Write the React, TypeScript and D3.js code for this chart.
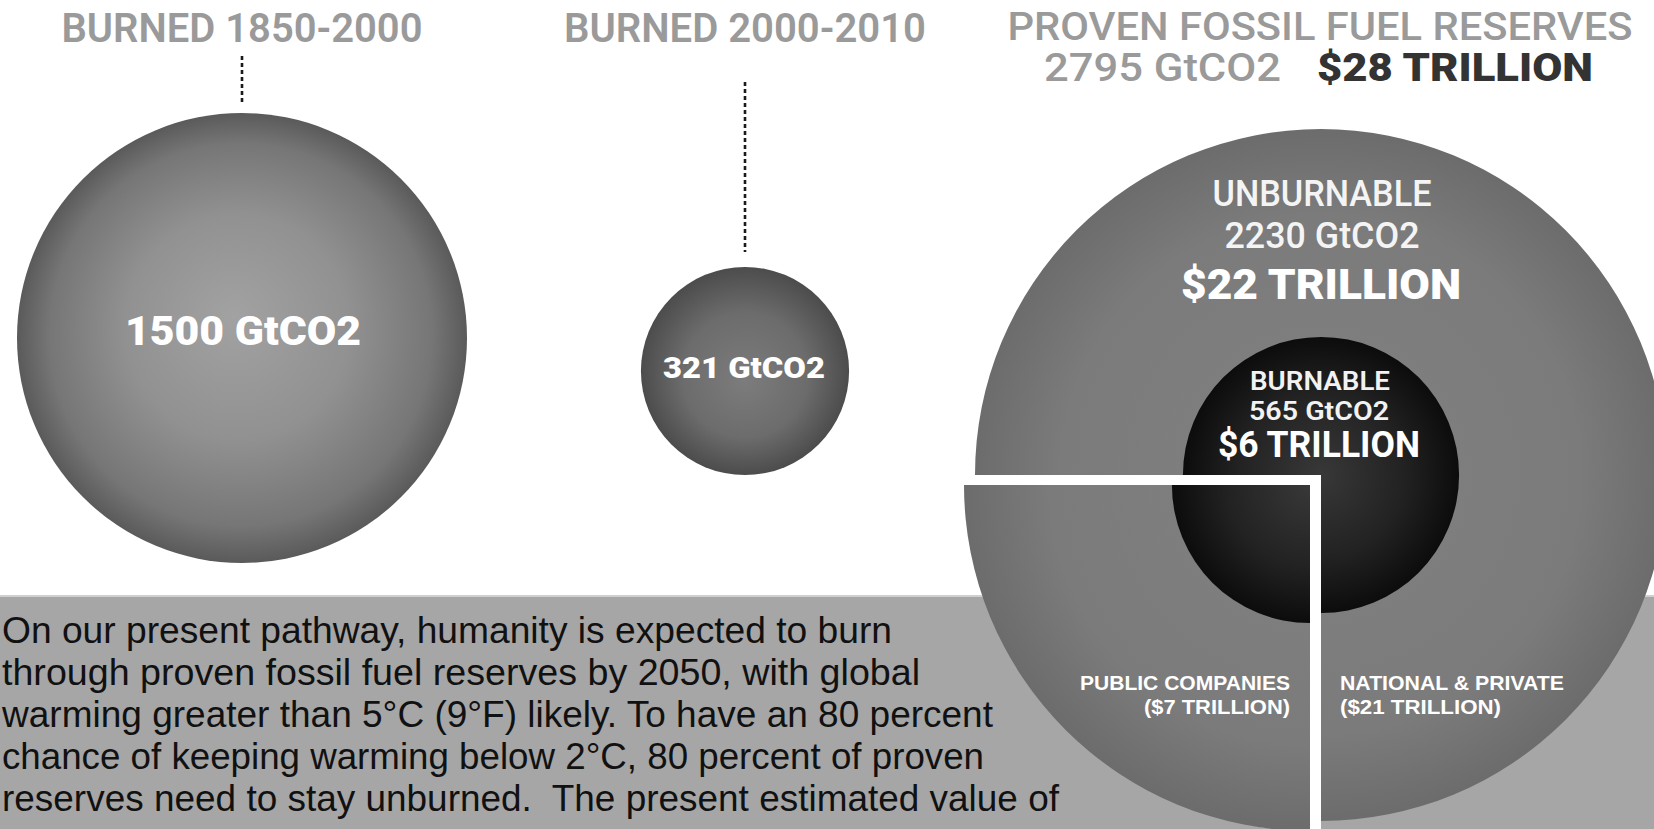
import * as d3 from 'd3'

// ── data ───────────────────────────────────────────────────────────
const burnedLabels = ['BURNED 1850-2000', 'BURNED 2000-2010']
const burnedGt = [1500, 321]

const reserveTitle = 'PROVEN FOSSIL FUEL RESERVES'
const reserveTotalGt = 2795
const reserveTotalUsd = 28

const splitLabels = ['UNBURNABLE', 'BURNABLE']
const splitGt = [2230, 565]
const splitUsd = [22, 6]

const ownerLabels = ['PUBLIC COMPANIES', 'NATIONAL & PRIVATE']
const ownerUsd = [7, 21]

const bodyLines = [
  'On our present pathway, humanity is expected to burn',
  'through proven fossil fuel reserves by 2050, with global',
  'warming greater than 5°C (9°F) likely. To have an 80 percent',
  'chance of keeping warming below 2°C, 80 percent of proven',
  'reserves need to stay unburned.  The present estimated value of',
]
const bodyWidths = [890, 918, 991, 982, 1057]

const W = 1654
const H = 829
const HEAD = 'Roboto, "Liberation Sans", Arial, sans-serif'
const BODY = '"Liberation Sans Narrow", "Liberation Sans", Arial, sans-serif'
const SMALL = '"Liberation Sans", Arial, sans-serif'

function T({ x, y, size, weight = 500, fill = '#fff', anchor = 'middle', len, family = HEAD, children }) {
  return (
    <text x={x} y={y} fontSize={size} fontWeight={weight} fill={fill} textAnchor={anchor}
      fontFamily={family} textLength={len} lengthAdjust="spacingAndGlyphs" style={{ whiteSpace: 'pre' }}>
      {children}
    </text>
  )
}

export default function App() {
  // burned circles + burnable core share one area scale
  const rScale = d3.scaleSqrt().domain([0, 1500]).range([0, 225])
  // the reserves disc is sized to its own panel
  const rReserve = d3.scaleSqrt().domain([0, reserveTotalGt]).range([0, 346])

  const burnedX = [242, 745]
  const burnedCy = [338, 371]
  const titleW = [361, 362]

  const cx = 1321
  const cy = 475
  const R = rReserve(reserveTotalGt)
  const rIn = rScale(splitGt[1])
  const off = [-11, 10]

  // public companies slice = share of total value, hanging at the lower left
  const pubShare = ownerUsd[0] / reserveTotalUsd
  const a0 = Math.PI
  const a1 = Math.PI + 2 * Math.PI * pubShare
  const arc = d3.arc()
  const natOuter = arc({ innerRadius: 0, outerRadius: R, startAngle: a1 - 2 * Math.PI, endAngle: a0 })
  const natInner = arc({ innerRadius: 0, outerRadius: rIn, startAngle: a1 - 2 * Math.PI, endAngle: a0 })
  const pubOuter = arc({ innerRadius: 0, outerRadius: R, startAngle: a0, endAngle: a1 })
  const pubInner = arc({ innerRadius: 0, outerRadius: rIn, startAngle: a0, endAngle: a1 })
  const gapArc = arc({ innerRadius: 0, outerRadius: R + 11, startAngle: a0, endAngle: a1 })

  const bandY = 596

  return (
    <svg width={W} height={H} style={{ position: 'absolute', left: 0, top: 0, display: 'block' }}>
      <defs>
        <radialGradient id="g1" cx="0.5" cy="0.5" r="0.5" fx="0.48" fy="0.45">
          <stop offset="0" stopColor="#a2a2a2" />
          <stop offset="0.5" stopColor="#919191" />
          <stop offset="0.85" stopColor="#767676" />
          <stop offset="1" stopColor="#5a5a5a" />
        </radialGradient>
        <radialGradient id="g2" cx="0.5" cy="0.5" r="0.5" fx="0.5" fy="0.55">
          <stop offset="0" stopColor="#7c7c7c" />
          <stop offset="0.6" stopColor="#6c6c6c" />
          <stop offset="1" stopColor="#4c4c4c" />
        </radialGradient>
        <radialGradient id="gOut" gradientUnits="userSpaceOnUse" cx="0" cy="0" r={R}>
          <stop offset="0" stopColor="#818181" />
          <stop offset="0.75" stopColor="#7b7b7b" />
          <stop offset="1" stopColor="#6c6c6c" />
        </radialGradient>
        <radialGradient id="gIn" gradientUnits="userSpaceOnUse" cx="0" cy="0" r={rIn}>
          <stop offset="0" stopColor="#383838" />
          <stop offset="0.6" stopColor="#222" />
          <stop offset="1" stopColor="#0c0c0c" />
        </radialGradient>
      </defs>

      <rect width={W} height={H} fill="#fff" />

      {/* grey footer band with the story text */}
      <rect x={0} y={bandY} width={W} height={H - bandY} fill="#a6a6a6" />
      <rect x={0} y={bandY - 1} width={W} height={2} fill="#cfcfcf" />
      {bodyLines.map((line, i) => (
        <T key={i} x={2} y={643 + i * 42} size={37} weight={400} fill="#111" anchor="start"
          len={bodyWidths[i]} family={BODY}>{line}</T>
      ))}

      {/* burned so far */}
      {burnedGt.map((v, i) => {
        const r = rScale(v)
        return (
          <g key={i}>
            <T x={burnedX[i]} y={42} size={40} weight={600} fill="#9a9a9a" len={titleW[i]}>{burnedLabels[i]}</T>
            <line x1={burnedX[i]} x2={burnedX[i]} y1={i === 0 ? 56 : 82} y2={burnedCy[i] - r - (i === 0 ? 9 : 15)}
              stroke="#1a1a1a" strokeWidth={2.6} strokeDasharray="4 3" />
            <circle cx={burnedX[i]} cy={burnedCy[i]} r={r} fill={`url(#g${i + 1})`} />
            <T x={burnedX[i] + (i === 0 ? 1 : -1)} y={burnedCy[i] + 7} size={i === 0 ? 40 : 30}
              weight={900} len={i === 0 ? 236 : 162}>{`${v} GtCO2`}</T>
          </g>
        )
      })}

      {/* reserves */}
      <T x={1320} y={40} size={38} weight={500} fill="#9a9a9a" len={625}>{reserveTitle}</T>
      <T x={1044} y={81} size={38} weight={500} fill="#9a9a9a" anchor="start" len={237}>{`${reserveTotalGt} GtCO2`}</T>
      <T x={1317} y={81} size={38} weight={900} fill="#333" anchor="start" len={276}>{`$${reserveTotalUsd} TRILLION`}</T>

      <g transform={`translate(${cx},${cy})`}>
        <path d={natOuter} fill="url(#gOut)" />
        <path d={natInner} fill="url(#gIn)" />
        <path d={gapArc} fill="#fff" />
        <g transform={`translate(${off[0]},${off[1]})`}>
          <path d={pubOuter} fill="url(#gOut)" />
          <path d={pubInner} fill="url(#gIn)" />
        </g>
      </g>

      <T x={1322} y={206} size={36} weight={500} fill="#f4f4f4" len={219}>{splitLabels[0]}</T>
      <T x={1322} y={248} size={36} weight={500} fill="#f4f4f4" len={195}>{`${splitGt[0]} GtCO2`}</T>
      <T x={1321} y={299} size={42} weight={900} len={280}>{`$${splitUsd[0]} TRILLION`}</T>

      <T x={1320} y={390} size={25} weight={600} fill="#f2f2f2" len={140}>{splitLabels[1]}</T>
      <T x={1319} y={420} size={25} weight={600} fill="#f2f2f2" len={140}>{`${splitGt[1]} GtCO2`}</T>
      <T x={1319} y={457} size={36} weight={700} len={202}>{`$${splitUsd[1]} TRILLION`}</T>

      <T x={1290} y={690} size={21} weight={700} anchor="end" len={210} family={SMALL}>{ownerLabels[0]}</T>
      <T x={1290} y={714} size={21} weight={700} anchor="end" len={146} family={SMALL}>{`($${ownerUsd[0]} TRILLION)`}</T>
      <T x={1340} y={690} size={21} weight={700} anchor="start" len={224} family={SMALL}>{ownerLabels[1]}</T>
      <T x={1340} y={714} size={21} weight={700} anchor="start" len={161} family={SMALL}>{`($${ownerUsd[1]} TRILLION)`}</T>
    </svg>
  )
}
